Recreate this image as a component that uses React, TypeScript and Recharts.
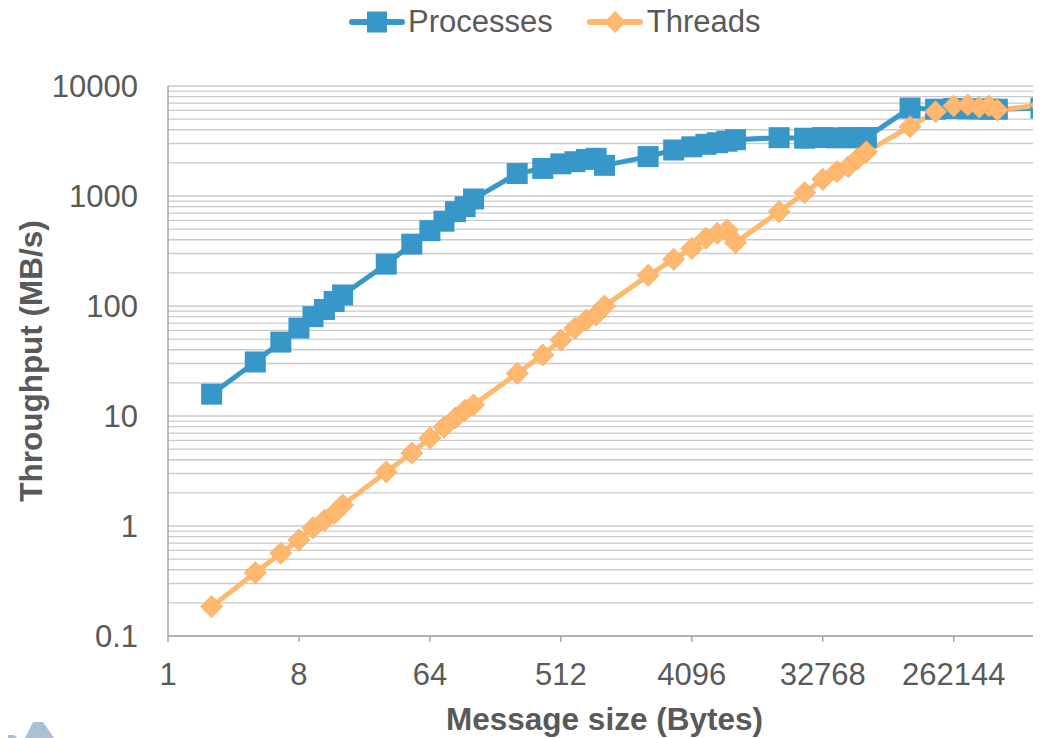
import { CartesianGrid, Legend, Line, LineChart, XAxis, YAxis } from "recharts";

// message sizes in bytes
const sizes = [
  2, 4, 6, 8, 10, 12, 14, 16, 32, 48, 64, 80, 96, 112, 128, 256, 384, 512, 640, 768, 896, 1024,
  2048, 3072, 4096, 5120, 6144, 7168, 8192, 16384, 24576, 32768, 40960, 49152, 57344, 65536,
  131072, 196608, 262144, 327680, 393216, 458752, 524288, 1048576,
];

// throughput MB/s
const processes = [
  15.8, 31, 47, 63, 80, 93, 110, 126, 240, 365, 484, 590, 720, 800, 940, 1600, 1780, 1960, 2050,
  2150, 2200, 1900, 2280, 2620, 2800, 2950, 3050, 3150, 3250, 3390, 3350, 3400, 3380, 3400, 3380,
  3400, 6300, 6150, 6250, 6200, 6200, 6150, 6150, 6300,
];
const threads = [
  0.185, 0.376, 0.565, 0.746, 0.965, 1.13, 1.3, 1.55, 3.1, 4.6, 6.3, 7.9, 9.6, 11.3, 12.6, 24.4,
  35.9, 49, 62.7, 74.6, 82.8, 100, 190, 266, 334, 412, 458, 491, 377, 720, 1073, 1419, 1663, 1849,
  2200, 2530, 4270, 5840, 6580, 6720, 6400, 6580, 6050, 6700,
];

const xTicks = [1, 8, 64, 512, 4096, 32768, 262144];
const yTicks = [0.1, 1, 10, 100, 1000, 10000];
const gridValues = [
  0.1, 0.2, 0.3, 0.4, 0.5, 0.6, 0.7, 0.8, 0.9,
  1, 2, 3, 4, 5, 6, 7, 8, 9,
  10, 20, 30, 40, 50, 60, 70, 80, 90,
  100, 200, 300, 400, 500, 600, 700, 800, 900,
  1000, 2000, 3000, 4000, 5000, 6000, 7000, 8000, 9000,
  10000,
];

const procData = sizes.map((x, i) => ({ x, y: processes[i] }));
const threadData = sizes.map((x, i) => ({ x, y: threads[i] }));

const BLUE = "#3797c9";
const ORANGE = "#ffb86e";
const TEXT = "#595959";
const AXIS = "#a6a6a6";
const FONT = "'Liberation Sans', Arial, sans-serif";

function Square(props: any) {
  const { cx, cy, index } = props;
  if (cx == null || cy == null) return <g key={`p${index}`} />;
  return <rect key={`p${index}`} x={cx - 10.5} y={cy - 10.5} width={21} height={21} fill={BLUE} />;
}

function Diamond(props: any) {
  const { cx, cy, index } = props;
  if (cx == null || cy == null) return <g key={`t${index}`} />;
  const r = 11;
  return (
    <polygon
      key={`t${index}`}
      points={`${cx},${cy - r} ${cx + r},${cy} ${cx},${cy + r} ${cx - r},${cy}`}
      fill={ORANGE}
      stroke="#f3aa60"
      strokeWidth={0.8}
    />
  );
}

function LegendContent() {
  return (
    <div style={{ display: "flex", alignItems: "center", height: 28, fontFamily: FONT, fontSize: 31, color: TEXT, lineHeight: "28px" }}>
      <svg width={56} height={28}>
        <line x1={3} y1={14} x2={53} y2={14} stroke={BLUE} strokeWidth={6} strokeLinecap="round" />
        <rect x={18} y={3.5} width={20} height={21} fill={BLUE} />
      </svg>
      <span style={{ marginLeft: 3 }}>Processes</span>
      <svg width={56} height={28} style={{ marginLeft: 34 }}>
        <line x1={3} y1={14} x2={53} y2={14} stroke={ORANGE} strokeWidth={6} strokeLinecap="round" />
        <polygon points="28,3 39,14 28,25 17,14" fill={ORANGE} />
      </svg>
      <span style={{ marginLeft: 4 }}>Threads</span>
    </div>
  );
}

export default function App() {
  return (
    <div style={{ position: "relative", width: 1033, height: 730 }}>
      <LineChart width={1033} height={730} margin={{ top: 78, right: 0, bottom: 0, left: 0 }}>
        <CartesianGrid vertical={false} horizontalValues={gridValues} stroke="#cacaca" strokeWidth={1.3} />
        <XAxis
          type="number"
          dataKey="x"
          scale="log"
          domain={[1, 1048576]}
          allowDataOverflow
          ticks={xTicks}
          interval={0}
          height={102}
          axisLine={{ stroke: AXIS, strokeWidth: 1.5 }}
          tickLine={{ stroke: AXIS, strokeWidth: 1.5 }}
          tickSize={6}
          tickMargin={21}
          tick={{ fill: TEXT, fontSize: 31, fontFamily: FONT }}
          label={{
            content: (p: any) => {
              const vb = p.viewBox;
              return (
                <text x={vb.x + vb.width / 2} y={vb.y + vb.height - 8} textAnchor="middle" fill={TEXT} fontSize={31.5} fontWeight="bold" fontFamily={FONT}>
                  Message size (Bytes)
                </text>
              );
            },
          }}
        />
        <YAxis
          type="number"
          dataKey="y"
          scale="log"
          domain={[0.1, 10000]}
          allowDataOverflow
          ticks={yTicks}
          interval={0}
          width={160}
          axisLine={{ stroke: AXIS, strokeWidth: 1.5 }}
          tickLine={false}
          tickSize={0}
          tickMargin={30}
          tick={{ fill: TEXT, fontSize: 31, fontFamily: FONT }}
          label={{
            content: (p: any) => {
              const vb = p.viewBox;
              return (
                <text transform={`translate(${vb.x + 34}, ${vb.y + vb.height / 2}) rotate(-90)`} textAnchor="middle" fill={TEXT} fontSize={31.5} fontWeight="bold" fontFamily={FONT}>
                  Throughput (MB/s)
                </text>
              );
            },
          }}
        />
        <Legend verticalAlign="middle" align="center" layout="horizontal" wrapperStyle={{ top: 0, left: 341, width: "auto" }} content={<LegendContent />} />
        <Line data={procData} dataKey="y" name="Processes" stroke={BLUE} strokeWidth={5} dot={Square} activeDot={false} isAnimationActive={false} />
        <Line data={threadData} dataKey="y" name="Threads" stroke={ORANGE} strokeWidth={5} dot={Diamond} activeDot={false} isAnimationActive={false} />
      </LineChart>
      <svg width={60} height={22} style={{ position: "absolute", left: -8, top: 708 }}>
        <polygon points="25,22 33,6 43,6 54,22" fill="#a9c1d6" />
        <polygon points="0,22 0,19 14,19 17,22" fill="#a9c1d6" />
      </svg>
    </div>
  );
}
